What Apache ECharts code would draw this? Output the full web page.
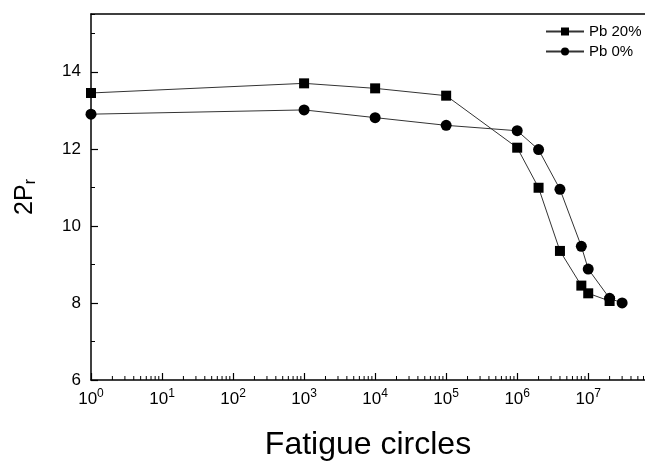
<!DOCTYPE html>
<html>
<head>
<meta charset="utf-8">
<script src="https://cdn.jsdelivr.net/npm/echarts@6/dist/echarts.min.js"></script>
<style>
  html, body { margin: 0; padding: 0; background: #fff; }
  #chart { width: 645px; height: 466px; }
</style>
</head>
<body>
<div id="chart"></div>
<script>
// fatigue cycles (x) and 2Pr values
const pb20Cycles = [1, 1e3, 1e4, 1e5, 1e6, 2e6, 4e6, 8e6, 1e7, 2e7];
const pb20Values = [13.45, 13.7, 13.57, 13.38, 12.03, 10.99, 9.35, 8.45, 8.25, 8.05];
const pb0Cycles = [1, 1e3, 1e4, 1e5, 1e6, 2e6, 4e6, 8e6, 1e7, 2e7, 3e7];
const pb0Values = [12.9, 13.01, 12.81, 12.61, 12.47, 11.98, 10.95, 9.47, 8.88, 8.12, 8.0];
const seriesNames = ['Pb 20%', 'Pb 0%'];

// x axis runs past the right edge of the picture
const xMin = 1;
const xMax = 6.3e7;

// minor ticks of the log axis: 2..9 times each decade
const minorCycles = [];
for (let d = 0; d < 8; d++) {
  for (let k = 2; k <= 9; k++) {
    const v = k * Math.pow(10, d);
    if (v < xMax) minorCycles.push([v, 6]);
  }
}

const chart = echarts.init(document.getElementById('chart'));
const font = 'Liberation Sans, Arial, sans-serif';

const option = {
  animation: false,
  grid: { left: 91, right: 0, top: 14, bottom: 83 },
  legend: {
    orient: 'vertical',
    left: 540, top: 19,
    itemWidth: 38, itemHeight: 10, itemGap: 5,
    textStyle: { fontFamily: font, fontSize: 15, color: '#000' },
    data: seriesNames
  },
  xAxis: [{
    type: 'log',
    logBase: 10,
    min: xMin, max: xMax,
    name: 'Fatigue circles',
    nameLocation: 'middle',
    nameGap: 49,
    nameTextStyle: { fontFamily: font, fontSize: 32, color: '#000' },
    axisLine: { lineStyle: { color: '#000', width: 1.5 } },
    axisTick: { inside: true, length: 7, lineStyle: { color: '#000', width: 1.2 } },
    splitLine: { show: false },
    axisLabel: {
      margin: 8,
      showMaxLabel: false,
      formatter: function (v) {
        const e = Math.round(Math.log10(v));
        return '{b|10}{s|' + e + '}';
      },
      rich: {
        b: { fontFamily: font, fontSize: 17, color: '#000', verticalAlign: 'bottom', lineHeight: 20 },
        s: { fontFamily: font, fontSize: 12, color: '#000', verticalAlign: 'top', lineHeight: 20, padding: [0, 0, 8, 0] }
      }
    }
  }, {
    // top frame line
    type: 'value',
    position: 'top',
    min: 0, max: 1,
    axisLine: { show: true, lineStyle: { color: '#000', width: 1.5 } },
    axisTick: { show: false },
    axisLabel: { show: false },
    splitLine: { show: false }
  }],
  yAxis: [{
    type: 'value',
    min: 6, max: 15.5, interval: 2,
    name: '{a|2P}{r|r}',
    nameLocation: 'middle',
    nameGap: 52,
    nameTextStyle: {
      rich: {
        a: { fontFamily: font, fontSize: 25, color: '#000' },
        r: { fontFamily: font, fontSize: 16, color: '#000', padding: [12, 0, 0, 0] }
      }
    },
    axisLine: { show: true, lineStyle: { color: '#000', width: 1.5 } },
    axisTick: { inside: true, length: 7, lineStyle: { color: '#000', width: 1.2 } },
    splitLine: { show: false },
    axisLabel: {
      margin: 10, showMaxLabel: false,
      fontFamily: font, fontSize: 17, color: '#000'
    }
  }, {
    type: 'value',
    position: 'left',
    min: 6, max: 15.5, interval: 1,
    axisLine: { show: false },
    axisTick: { inside: true, length: 4, lineStyle: { color: '#000', width: 1 } },
    splitLine: { show: false },
    axisLabel: { show: false }
  }],
  series: [{
    name: seriesNames[0],
    type: 'line',
    data: pb20Cycles.map((c, i) => [c, pb20Values[i]]),
    symbol: 'rect',
    symbolSize: 10,
    itemStyle: { color: '#000' },
    lineStyle: { color: '#333', width: 1 }
  }, {
    name: seriesNames[1],
    type: 'line',
    data: pb0Cycles.map((c, i) => [c, pb0Values[i]]),
    symbol: 'circle',
    symbolSize: 11,
    itemStyle: { color: '#000' },
    lineStyle: { color: '#333', width: 1 }
  }, {
    type: 'custom',
    silent: true,
    data: minorCycles,
    renderItem: function (params, api) {
      const p = api.coord([api.value(0), api.value(1)]);
      return {
        type: 'line',
        shape: { x1: p[0], y1: p[1], x2: p[0], y2: p[1] - 4 },
        style: { stroke: '#000', lineWidth: 1 }
      };
    }
  }]
};

chart.setOption(option);
</script>
</body>
</html>
